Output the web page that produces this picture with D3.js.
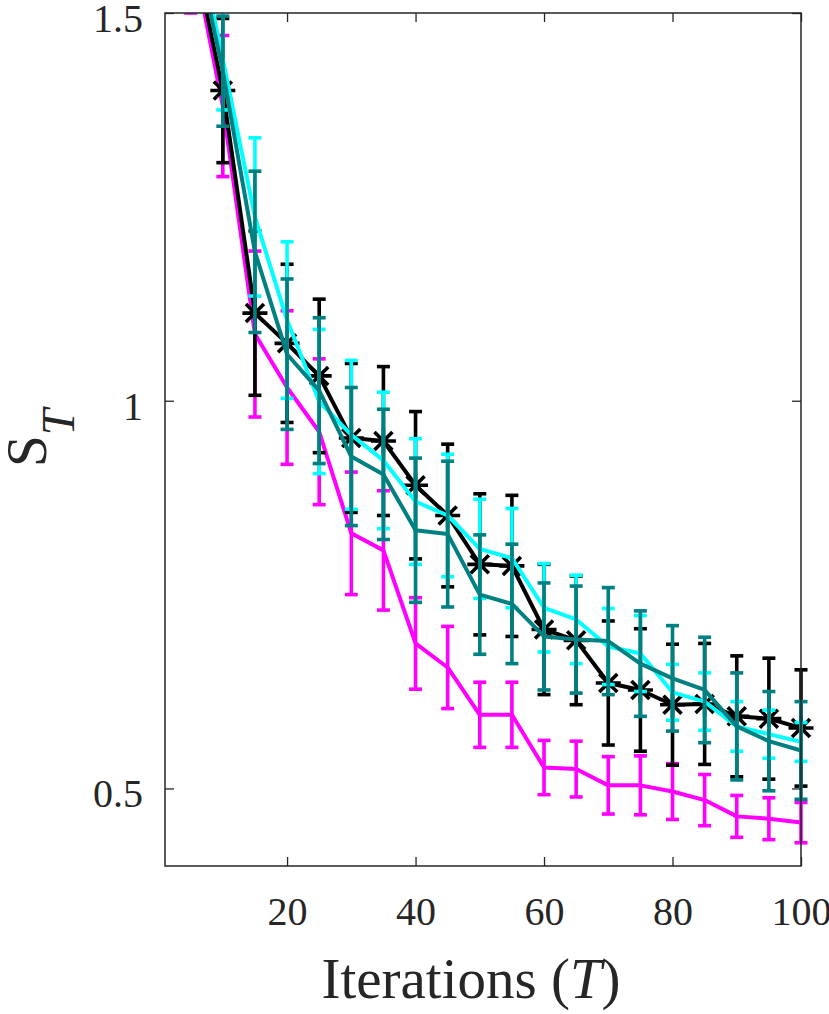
<!DOCTYPE html>
<html>
<head>
<meta charset="utf-8">
<script src="https://cdn.jsdelivr.net/npm/d3@7"></script>
<style>
  html, body { margin: 0; padding: 0; background: #fff; }
  svg { display: block; }
  text, tspan { font-family: "Liberation Serif", "Times New Roman", serif; fill: #262626; }
</style>
</head>
<body>
<svg id="chart" width="829" height="1014"></svg>
<script>
// ---- data ----
const iterations = [5, 10, 15, 20, 25, 30, 35, 40, 45, 50, 55, 60, 65, 70, 75, 80, 85, 90, 95, 100];

const magentaMean = [1.59, 1.38, 1.086, 1.017, 0.960, 0.829, 0.807, 0.687, 0.656, 0.595, 0.595, 0.527, 0.525, 0.504, 0.504, 0.496, 0.485, 0.464, 0.461, 0.456];
const magentaErr  = [0.090, 0.091, 0.107, 0.099, 0.094, 0.079, 0.077, 0.059, 0.053, 0.042, 0.042, 0.035, 0.036, 0.037, 0.038, 0.036, 0.033, 0.027, 0.027, 0.026];

const blackMean = [1.60, 1.40, 1.113, 1.074, 1.032, 0.952, 0.948, 0.891, 0.852, 0.789, 0.787, 0.705, 0.691, 0.636, 0.627, 0.608, 0.609, 0.593, 0.590, 0.578];
const blackErr  = [0.090, 0.093, 0.106, 0.102, 0.099, 0.096, 0.096, 0.095, 0.092, 0.091, 0.091, 0.084, 0.083, 0.080, 0.079, 0.078, 0.078, 0.078, 0.078, 0.075];

const cyanMean = [1.64, 1.44, 1.237, 1.104, 0.999, 0.956, 0.923, 0.870, 0.852, 0.809, 0.797, 0.733, 0.718, 0.683, 0.674, 0.624, 0.612, 0.580, 0.570, 0.560];
const cyanErr  = [0.070, 0.065, 0.102, 0.101, 0.093, 0.096, 0.088, 0.081, 0.079, 0.064, 0.064, 0.057, 0.057, 0.049, 0.049, 0.036, 0.037, 0.032, 0.031, 0.025];

const tealMean = [1.62, 1.425, 1.192, 1.060, 1.013, 0.928, 0.905, 0.833, 0.828, 0.750, 0.738, 0.696, 0.692, 0.690, 0.661, 0.642, 0.627, 0.580, 0.561, 0.549];
const tealErr  = [0.070, 0.071, 0.104, 0.097, 0.094, 0.089, 0.084, 0.093, 0.094, 0.077, 0.077, 0.069, 0.069, 0.069, 0.068, 0.068, 0.068, 0.069, 0.064, 0.063];

const xTickValues = [20, 40, 60, 80, 100];
const yTickValues = [0.5, 1, 1.5];
const xDomain = [1, 100];
const yDomain = [0.4, 1.5];

// ---- build ----
const series = [
  { mean: magentaMean, err: magentaErr, color: "#ff00ff", marker: false },
  { mean: blackMean,   err: blackErr,   color: "#000000", marker: true  },
  { mean: cyanMean,    err: cyanErr,    color: "#00ffff", marker: false },
  { mean: tealMean,    err: tealErr,    color: "#008080", marker: false }
];

const FONT = "Liberation Serif";
const svg = d3.select("#chart");
const L = 165, R = 801, Tp = 13, B = 866;
const x = d3.scaleLinear().domain(xDomain).range([L, R]);
const y = d3.scaleLinear().domain(yDomain).range([B, Tp]);

svg.append("defs").append("clipPath").attr("id", "clip")
  .append("rect").attr("x", 0).attr("y", Tp).attr("width", 829).attr("height", B - Tp);

const axisColor = "#262626";

const plot = svg.append("g").attr("clip-path", "url(#clip)");
const line = d3.line().x(d => x(d.t)).y(d => y(d.m));
const capHalf = 6.5;
const r = 12.5;

series.forEach(s => {
  const pts = iterations.map((t, i) => ({ t, m: s.mean[i], e: s.err[i] }));
  const g = plot.append("g");
  const eb = g.selectAll("g.eb").data(pts).enter().append("g")
    .attr("stroke", s.color).attr("stroke-width", 3.6).attr("fill", "none");
  eb.append("line")
    .attr("x1", d => x(d.t)).attr("x2", d => x(d.t))
    .attr("y1", d => y(d.m - d.e)).attr("y2", d => y(d.m + d.e));
  eb.append("line")
    .attr("x1", d => x(d.t) - capHalf).attr("x2", d => x(d.t) + capHalf)
    .attr("y1", d => y(d.m + d.e)).attr("y2", d => y(d.m + d.e));
  eb.append("line")
    .attr("x1", d => x(d.t) - capHalf).attr("x2", d => x(d.t) + capHalf)
    .attr("y1", d => y(d.m - d.e)).attr("y2", d => y(d.m - d.e));
  g.append("path").datum(pts)
    .attr("d", line)
    .attr("fill", "none")
    .attr("stroke", s.color)
    .attr("stroke-width", 4)
    .attr("stroke-linejoin", "round");
  if (s.marker) {
    const k = r * 0.72;
    const star = `M${-r},0H${r}M0,${-r}V${r}M${-k},${-k}L${k},${k}M${-k},${k}L${k},${-k}`;
    g.selectAll("path.mk").data(pts).enter().append("path")
      .attr("class", "mk")
      .attr("transform", d => `translate(${x(d.t)},${y(d.m)})`)
      .attr("d", star)
      .attr("fill", "none")
      .attr("stroke", s.color)
      .attr("stroke-width", 3.6);
  }
});

// ---- axes (ticks point inward) ----
const tickLen = 9;
const fontTick = 40;

const gx = svg.append("g").attr("transform", `translate(0,${B})`)
  .call(d3.axisBottom(x).tickValues(xTickValues).tickSize(-tickLen).tickSizeOuter(0).tickFormat(d3.format("d")));
gx.attr("font-family", FONT);
gx.select(".domain").remove();
gx.selectAll(".tick line").attr("stroke", axisColor).attr("stroke-width", 1.3);
gx.selectAll(".tick text").attr("y", 59).attr("dy", 0)
  .style("font-size", fontTick + "px").style("font-family", FONT).attr("fill", axisColor);

const gxt = svg.append("g").attr("transform", `translate(0,${Tp})`)
  .call(d3.axisTop(x).tickValues(xTickValues).tickSize(-tickLen).tickSizeOuter(0).tickFormat(""));
gxt.select(".domain").remove();
gxt.selectAll(".tick line").attr("stroke", axisColor).attr("stroke-width", 1.3);

const gy = svg.append("g").attr("transform", `translate(${L},0)`)
  .call(d3.axisLeft(y).tickValues(yTickValues).tickSize(-tickLen).tickSizeOuter(0).tickFormat(d3.format("")));
gy.attr("font-family", FONT);
gy.select(".domain").remove();
gy.selectAll(".tick line").attr("stroke", axisColor).attr("stroke-width", 1.3);
gy.selectAll(".tick text").attr("x", -22).attr("dy", 18.5)
  .style("font-size", fontTick + "px").style("font-family", FONT).attr("fill", axisColor);

const gyr = svg.append("g").attr("transform", `translate(${R},0)`)
  .call(d3.axisRight(y).tickValues(yTickValues).tickSize(-tickLen).tickSizeOuter(0).tickFormat(""));
gyr.select(".domain").remove();
gyr.selectAll(".tick line").attr("stroke", axisColor).attr("stroke-width", 1.3);

// box
svg.append("rect").attr("x", L).attr("y", Tp).attr("width", R - L).attr("height", B - Tp)
  .attr("fill", "none").attr("stroke", axisColor).attr("stroke-width", 1.5);

// ---- labels ----
const xl = svg.append("text").attr("x", 471).attr("y", 998)
  .attr("text-anchor", "middle").attr("font-family", FONT).style("font-size", "57px");
xl.append("tspan").attr("font-family", FONT).text("Iterations (");
xl.append("tspan").attr("font-family", FONT).style("font-style", "italic").text("T");
xl.append("tspan").attr("font-family", FONT).text(")");

const yl = svg.append("text").attr("transform", "translate(46,467) rotate(-90)")
  .attr("x", 0).attr("y", 0).attr("font-family", FONT).style("font-size", "57px");
yl.append("tspan").attr("font-family", FONT).text("S");
yl.append("tspan").attr("font-family", FONT).attr("dy", 28).style("font-size", "47px").style("font-style", "italic").text("T");
</script>
</body>
</html>
